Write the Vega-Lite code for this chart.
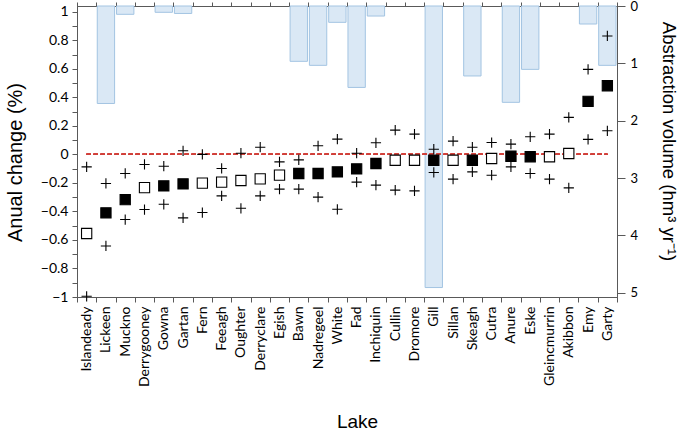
{
  "$schema": "https://vega.github.io/schema/vega-lite/v6.json",
  "autosize": "none",
  "width": 540,
  "height": 291,
  "padding": {"left": 77, "top": 6, "right": 66, "bottom": 136},
  "background": "white",
  "view": {"stroke": "#595959", "strokeWidth": 1},
  "config": {
    "view": {"stroke": "#595959", "strokeWidth": 1},
    "font": "Lato",
    "axis": {"domainColor": "#595959", "tickColor": "#595959", "labelColor": "#000000", "titleColor": "#000000", "grid": false, "labelFont": "Lato", "titleFont": "Liberation Sans", "titleFontWeight": "normal", "labelFontSize": 14, "titleFontSize": 19, "tickSize": 5, "labelOverlap": false}
  },
  "data": {"values": [
    {"lake": "Islandeady", "change": -0.555, "lo": -0.995, "up": -0.088, "abs": null, "sig": false},
    {"lake": "Lickeen", "change": -0.41, "lo": -0.642, "up": -0.204, "abs": 1.70, "sig": true},
    {"lake": "Muckno", "change": -0.317, "lo": -0.457, "up": -0.134, "abs": 0.145, "sig": true},
    {"lake": "Derrygooney", "change": -0.233, "lo": -0.387, "up": -0.071, "abs": null, "sig": false},
    {"lake": "Gowna", "change": -0.221, "lo": -0.35, "up": -0.083, "abs": 0.11, "sig": true},
    {"lake": "Gartan", "change": -0.207, "lo": -0.445, "up": 0.025, "abs": 0.13, "sig": true},
    {"lake": "Fern", "change": -0.202, "lo": -0.408, "up": 0.0, "abs": null, "sig": false},
    {"lake": "Feeagh", "change": -0.195, "lo": -0.291, "up": -0.099, "abs": null, "sig": false},
    {"lake": "Oughter", "change": -0.183, "lo": -0.378, "up": 0.008, "abs": null, "sig": false},
    {"lake": "Derryclare", "change": -0.172, "lo": -0.291, "up": 0.05, "abs": null, "sig": false},
    {"lake": "Egish", "change": -0.146, "lo": -0.244, "up": -0.053, "abs": null, "sig": false},
    {"lake": "Bawn", "change": -0.134, "lo": -0.244, "up": -0.039, "abs": 0.965, "sig": true},
    {"lake": "Nadregeel", "change": -0.134, "lo": -0.30, "up": 0.06, "abs": 1.035, "sig": true},
    {"lake": "White", "change": -0.123, "lo": -0.385, "up": 0.107, "abs": 0.285, "sig": true},
    {"lake": "Fad", "change": -0.102, "lo": -0.195, "up": 0.008, "abs": 1.42, "sig": true},
    {"lake": "Inchiquin", "change": -0.064, "lo": -0.216, "up": 0.081, "abs": 0.175, "sig": true},
    {"lake": "Cullin", "change": -0.041, "lo": -0.251, "up": 0.17, "abs": null, "sig": false},
    {"lake": "Dromore", "change": -0.041, "lo": -0.256, "up": 0.142, "abs": null, "sig": false},
    {"lake": "Gill", "change": -0.041, "lo": -0.127, "up": 0.036, "abs": 4.91, "sig": true},
    {"lake": "Sillan", "change": -0.041, "lo": -0.174, "up": 0.093, "abs": null, "sig": false},
    {"lake": "Skeagh", "change": -0.041, "lo": -0.123, "up": 0.05, "abs": 1.22, "sig": true},
    {"lake": "Cutra", "change": -0.029, "lo": -0.146, "up": 0.083, "abs": null, "sig": false},
    {"lake": "Anure", "change": -0.013, "lo": -0.088, "up": 0.072, "abs": 1.68, "sig": true},
    {"lake": "Eske", "change": -0.017, "lo": -0.134, "up": 0.123, "abs": 1.105, "sig": true},
    {"lake": "Gleincmurrin", "change": -0.017, "lo": -0.174, "up": 0.142, "abs": null, "sig": false},
    {"lake": "Akibbon", "change": 0.006, "lo": -0.235, "up": 0.259, "abs": null, "sig": false},
    {"lake": "Emy", "change": 0.371, "lo": 0.105, "up": 0.596, "abs": 0.314, "sig": true},
    {"lake": "Garty", "change": 0.481, "lo": 0.165, "up": 0.83, "abs": 1.035, "sig": true}
  ]},
  "layer": [
    {
      "mark": {"type": "bar", "width": {"band": 0.9}, "fill": "#dae8f5", "stroke": "#a3c4e2", "strokeWidth": 1},
      "encoding": {
        "x": {"field": "lake", "type": "nominal", "sort": null,
          "scale": {"domain": ["Islandeady","Lickeen","Muckno","Derrygooney","Gowna","Gartan","Fern","Feeagh","Oughter","Derryclare","Egish","Bawn","Nadregeel","White","Fad","Inchiquin","Cullin","Dromore","Gill","Sillan","Skeagh","Cutra","Anure","Eske","Gleincmurrin","Akibbon","Emy","Garty"], "paddingInner": 0, "paddingOuter": 0},
          "axis": {"orient": "bottom", "title": "Lake", "labelAngle": -90, "labelPadding": 4, "tickBand": "extent", "titleX": 280, "titleY": 130, "titleBaseline": "alphabetic", "titleAlign": "center"}},
        "y": {"field": "abs", "type": "quantitative",
          "scale": {"domain": [0, 5.075], "reverse": true, "nice": false, "zero": false},
          "axis": {"orient": "right", "values": [0,1,2,3,4,5], "title": "Abstraction volume (hm³ yr⁻¹)", "tickSize": 8, "labelPadding": 5, "labelFontSize": 13, "titleAngle": 90, "titleX": 51, "titleY": 135, "titleBaseline": "middle", "titleAlign": "center", "titleFontSize": 18.5}}
      }
    },
    {
      "mark": {"type": "rule", "color": "#d0403a", "strokeDash": [4, 3], "strokeWidth": 1},
      "encoding": {
        "x": {"datum": "Islandeady", "type": "nominal",
          "scale": {"domain": ["Islandeady","Lickeen","Muckno","Derrygooney","Gowna","Gartan","Fern","Feeagh","Oughter","Derryclare","Egish","Bawn","Nadregeel","White","Fad","Inchiquin","Cullin","Dromore","Gill","Sillan","Skeagh","Cutra","Anure","Eske","Gleincmurrin","Akibbon","Emy","Garty"], "paddingInner": 0, "paddingOuter": 0},
          "axis": null},
        "x2": {"datum": "Garty"},
        "y": {"datum": 0, "type": "quantitative", "scale": {"domain": [-1, 1.04], "nice": false, "zero": false}, "axis": null}
      }
    },
    {
      "transform": [{"fold": ["change", "lo", "up"], "as": ["key", "value"]}],
      "mark": {"type": "point", "filled": true, "stroke": "#000000", "strokeWidth": 1.1, "size": 105, "opacity": 1},
      "encoding": {
        "x": {"field": "lake", "type": "nominal", "sort": null,
          "scale": {"domain": ["Islandeady","Lickeen","Muckno","Derrygooney","Gowna","Gartan","Fern","Feeagh","Oughter","Derryclare","Egish","Bawn","Nadregeel","White","Fad","Inchiquin","Cullin","Dromore","Gill","Sillan","Skeagh","Cutra","Anure","Eske","Gleincmurrin","Akibbon","Emy","Garty"], "paddingInner": 0, "paddingOuter": 0},
          "axis": {"orient": "top", "labels": false, "title": null, "tickBand": "extent", "tickSize": 4}},
        "y": {"field": "value", "type": "quantitative",
          "scale": {"domain": [-1, 1.04], "nice": false, "zero": false},
          "axis": {"orient": "left", "title": "Anual change (%)", "labelOverlap": false,
            "values": [-1,-0.9,-0.8,-0.7,-0.6,-0.5,-0.4,-0.3,-0.2,-0.1,0,0.1,0.2,0.3,0.4,0.5,0.6,0.7,0.8,0.9,1],
            "labelExpr": "abs(round(datum.value*10)) % 2 == 0 ? format(datum.value, '.1~f') : ''",
            "tickSize": 5, "labelPadding": 4, "titleAngle": -90, "titleX": -62, "titleY": 156, "titleBaseline": "middle", "titleAlign": "center", "titleFontSize": 20}},
        "shape": {"field": "key", "type": "nominal", "scale": {"domain": ["change", "lo", "up"], "range": ["square", "M-1,0H1M0,-1V1", "M-1,0H1M0,-1V1"]}, "legend": null},
        "fill": {"condition": {"test": "datum.key != 'change'", "value": "transparent"}, "field": "sig", "type": "nominal", "scale": {"domain": [true, false], "range": ["#000000", "#ffffff"]}, "legend": null}
      }
    }
  ],
  "resolve": {"scale": {"x": "independent", "y": "independent"}, "axis": {"x": "independent", "y": "independent"}}
}
